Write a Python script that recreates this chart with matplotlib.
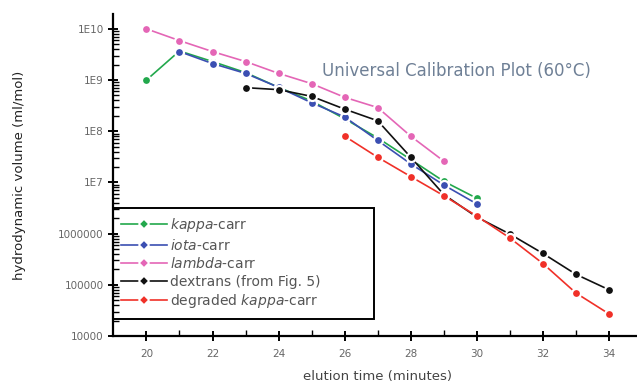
import matplotlib
matplotlib.use("Agg")
import matplotlib.pyplot as plt
from matplotlib.lines import Line2D
from matplotlib.ticker import FixedLocator, LogLocator, NullFormatter, FuncFormatter

# elution time (minutes) and hydrodynamic volume (ml/mol)
t_kappa = [20, 21, 22, 23, 24, 25, 26, 27, 28, 29, 30]
v_kappa = [1.0e9, 3.7e9, 2.3e9, 1.4e9, 7.2e8, 3.9e8, 1.75e8, 7.4e7, 2.8e7, 1.05e7, 4.9e6]

t_iota = [21, 22, 23, 24, 25, 26, 27, 28, 29, 30]
v_iota = [3.6e9, 2.1e9, 1.35e9, 7.2e8, 3.6e8, 1.9e8, 6.6e7, 2.3e7, 8.9e6, 3.8e6]

t_lambda = [20, 21, 22, 23, 24, 25, 26, 27, 28, 29]
v_lambda = [1.0e10, 5.9e9, 3.6e9, 2.3e9, 1.35e9, 8.5e8, 4.6e8, 2.9e8, 8.0e7, 2.6e7]

t_dex = [23, 24, 25, 26, 27, 28, 29, 30, 31, 32, 33, 34]
v_dex = [7.1e8, 6.5e8, 4.8e8, 2.7e8, 1.6e8, 3.1e7, 5.8e6, 2.1e6, 9.8e5, 4.1e5, 1.6e5, 8.0e4]

t_deg = [26, 27, 28, 29, 30, 31, 32, 33, 34]
v_deg = [8.0e7, 3.1e7, 1.3e7, 5.5e6, 2.2e6, 8.2e5, 2.6e5, 6.9e4, 2.7e4]

labels = [r"$\mathit{kappa}$-carr", r"$\mathit{iota}$-carr", r"$\mathit{lambda}$-carr",
          "dextrans (from Fig. 5)", r"degraded $\mathit{kappa}$-carr"]
colors = ["#22a84c", "#3b4fb2", "#e466b6", "#111111", "#f03028"]

x_ticks = [20, 22, 24, 26, 28, 30, 32, 34]
y_ticks = [1e4, 1e5, 1e6, 1e7, 1e8, 1e9, 1e10]
y_tick_labels = ["10000", "100000", "1000000", "1E7", "1E8", "1E9", "1E10"]

fig = plt.figure(figsize=(6.37, 3.83), dpi=100)
ax = fig.add_axes([0.178, 0.1227, 0.83, 0.8407])

series = [(t_kappa, v_kappa), (t_iota, v_iota), (t_lambda, v_lambda),
          (t_dex, v_dex), (t_deg, v_deg)]
for (t, v), c in zip(series, colors):
    ax.plot(t, v, color=c, lw=1.2, marker="o", ms=6.5, mfc=c, mec="white", mew=1.6)

ax.set_yscale("log")
ax.set_xlim(19, 35)
ax.set_ylim(1e4, 1.95e10)

ax.xaxis.set_major_locator(FixedLocator(x_ticks))
ax.xaxis.set_minor_locator(FixedLocator([21, 23, 25, 27, 29, 31, 33, 35]))
ax.yaxis.set_major_locator(FixedLocator(y_ticks))
ax.yaxis.set_minor_locator(LogLocator(base=10, subs=range(2, 10), numticks=20))
ax.yaxis.set_minor_formatter(NullFormatter())
ax.yaxis.set_major_formatter(FuncFormatter(lambda v, p: dict(zip(y_ticks, y_tick_labels)).get(v, "")))

for s in ["top", "right"]:
    ax.spines[s].set_visible(False)
for s in ["left", "bottom"]:
    ax.spines[s].set_linewidth(1.6)

ax.tick_params(axis="both", which="major", direction="inout", length=7, width=1.4,
               labelsize=7.5, labelcolor="#666666")
ax.tick_params(axis="x", which="major", pad=6)
ax.tick_params(axis="both", which="minor", direction="in", length=4, width=1.0)

ax.set_xlabel("elution time (minutes)", fontsize=9.5, color="#444444", labelpad=8)
ax.set_ylabel("hydrodynamic volume (ml/mol)", fontsize=9.5, color="#222222", labelpad=23)

ax.text(0.717, 0.815, "Universal Calibration Plot (60\u00b0C)", transform=fig.transFigure,
        ha="center", va="center", fontsize=12, color="#6f8096")

handles = [Line2D([], [], color=c, lw=1.2, marker="D", ms=5.5, mfc=c, mec="white", mew=1.2)
           for c in colors]
leg = ax.legend(handles, labels, loc="upper left",
                bbox_to_anchor=(113 / 637, 1 - 317 / 383, (374 - 113) / 637, (317 - 208) / 383),
                bbox_transform=fig.transFigure, mode="expand", borderaxespad=0,
                fontsize=10, handlelength=3.3, handletextpad=0.2, labelspacing=0.25,
                frameon=True, fancybox=False, borderpad=0.6, framealpha=1,
                labelcolor="#555555")
leg.get_frame().set_edgecolor("black")
leg.get_frame().set_linewidth(1.4)
# keep the axis ticks drawn over the legend box
leg.set_zorder(1.2)

fig.savefig("out.png", dpi=100)
